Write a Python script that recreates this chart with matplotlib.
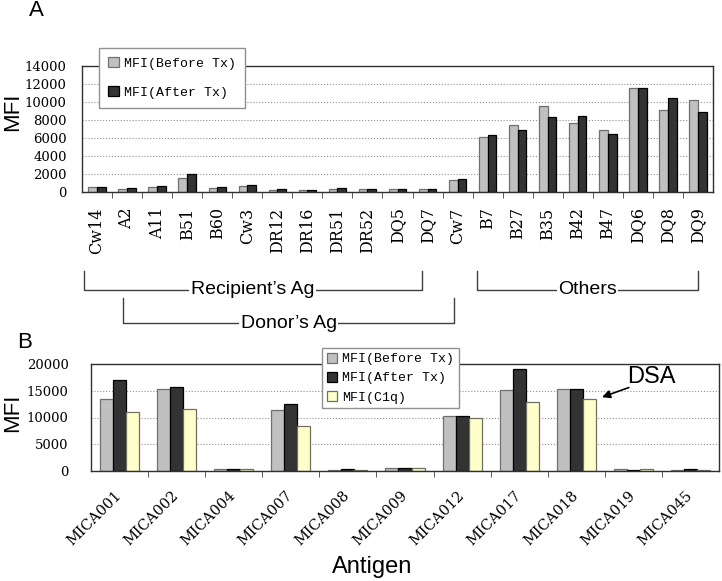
import matplotlib.pyplot as plt
import matplotlib.transforms as mtransforms
import numpy as np

# Panel A data
ag_a = ['Cw14', 'A2', 'A11', 'B51', 'B60', 'Cw3', 'DR12', 'DR16', 'DR51', 'DR52',
        'DQ5', 'DQ7', 'Cw7', 'B7', 'B27', 'B35', 'B42', 'B47', 'DQ6', 'DQ8', 'DQ9']
before_a = [550, 330, 550, 1550, 440, 660, 200, 200, 370, 350,
            290, 290, 1290, 6070, 7470, 9600, 7620, 6850, 11590, 9130, 10270]
after_a = [600, 420, 620, 1990, 550, 740, 300, 180, 480, 350,
           350, 350, 1430, 6370, 6850, 8350, 8460, 6440, 11590, 10450, 8940]

# Panel B data
ag_b = ['MICA001', 'MICA002', 'MICA004', 'MICA007', 'MICA008', 'MICA009',
        'MICA012', 'MICA017', 'MICA018', 'MICA019', 'MICA045']
before_b = [13430, 15390, 430, 11400, 250, 550, 10240, 15080, 15330, 300, 120]
after_b = [16920, 15630, 370, 12570, 430, 550, 10240, 19130, 15330, 250, 300]
c1q_b = [11100, 11520, 430, 8340, 250, 550, 9930, 12810, 13490, 300, 120]

GRAY = '#c0c0c0'
DARK = '#333333'
YELLOW = '#ffffcc'
SERIF = 'DejaVu Serif'
SANS = 'Liberation Sans'
MONO = 'Liberation Mono'

plt.rcParams['font.family'] = SERIF

W, H = 722, 581
fig = plt.figure(figsize=(W / 100, H / 100), dpi=100)


def px_axes(l, t, r, b):
    return fig.add_axes([l / W, 1 - b / H, (r - l) / W, (b - t) / H])


def style_axes(ax, n, ymax, ystep, ypad):
    ax.set_xlim(-0.5, n - 0.5)
    ax.set_ylim(0, ymax)
    ax.set_yticks(np.arange(0, ymax + 1, ystep))
    ax.set_xticks(np.arange(n - 1) + 0.5, minor=True)
    ax.tick_params(axis='y', length=0, pad=ypad, labelsize=9.5)
    ax.tick_params(axis='x', which='major', length=0)
    ax.tick_params(axis='x', which='minor', length=4, direction='out', color='#404040')
    ax.yaxis.grid(True, linestyle=':', color='#909090', linewidth=0.8)
    ax.set_axisbelow(True)
    for s in ax.spines.values():
        s.set_color('#303030')
        s.set_linewidth(1.0)


# ---------------- Panel A ----------------
axA = px_axes(82, 66, 713, 192)
x = np.arange(len(ag_a))
w = 0.29
axA.bar(x - w / 2, before_a, w, color=GRAY, edgecolor='#707070', linewidth=0.9,
        label='MFI(Before Tx)')
axA.bar(x + w / 2, after_a, w, color=DARK, edgecolor='#000000', linewidth=0.9,
        label='MFI(After Tx)')
style_axes(axA, len(ag_a), 14000, 2000, 11)
axA.set_xticks(x)
axA.set_xticklabels(ag_a, rotation=90, fontsize=11.5)
axA.tick_params(axis='x', which='major', pad=11)
axA.legend(loc='upper left', bbox_to_anchor=(99 / W, 1 - 48 / H),
           bbox_transform=fig.transFigure, prop={'family': MONO, 'size': 9.5},
           fancybox=False, edgecolor='#909090', framealpha=1,
           handlelength=0.8, handleheight=0.8, handletextpad=0.4,
           labelspacing=1.25, borderpad=0.7, borderaxespad=0)

# brackets under panel A (x in data units, y in figure pixels)
tr = mtransforms.blended_transform_factory(axA.transData, fig.transFigure)


def bracket(x0, x1, ytop, ybot, text):
    yt, yb = 1 - ytop / H, 1 - ybot / H
    xm = (x0 + x1) / 2
    axA.plot([x0, x0, x1, x1], [yt, yb, yb, yt], color='#404040', lw=1,
             transform=tr, clip_on=False)
    axA.text(xm, yb, text, transform=tr, ha='center', va='center',
             fontfamily=SANS, fontsize=14,
             bbox=dict(facecolor='white', edgecolor='none', pad=1))


bracket(-0.45, 10.8, 271, 290, "Recipient\u2019s Ag")
bracket(0.87, 11.88, 298, 323, "Donor\u2019s Ag")
bracket(12.65, 20.0, 271, 290, "Others")

# ---------------- Panel B ----------------
axB = px_axes(91, 364, 719, 471)
xb = np.arange(len(ag_b))
wb = 0.228
axB.bar(xb - wb, before_b, wb, color=GRAY, edgecolor='#707070', linewidth=0.9,
        label='MFI(Before Tx)')
axB.bar(xb, after_b, wb, color=DARK, edgecolor='#000000', linewidth=0.9,
        label='MFI(After Tx)')
axB.bar(xb + wb, c1q_b, wb, color=YELLOW, edgecolor='#707060', linewidth=0.9,
        label='MFI(C1q)')
style_axes(axB, len(ag_b), 20000, 5000, 16)
axB.set_xticks(xb)
axB.set_xticklabels(ag_b, rotation=45, ha='right', va='center', rotation_mode='anchor',
                    fontsize=10.5)
axB.tick_params(axis='x', which='major', pad=16)
axB.legend(loc='upper left', bbox_to_anchor=(322 / W, 1 - 348 / H),
           bbox_transform=fig.transFigure, prop={'family': MONO, 'size': 9.5},
           fancybox=False, edgecolor='#909090', framealpha=1,
           handlelength=0.8, handleheight=0.8, handletextpad=0.4,
           labelspacing=0.5, borderpad=0.35, borderaxespad=0)
axB.annotate('', xy=(8.45, 13800), xytext=(8.92, 15600),
             arrowprops=dict(arrowstyle='-|>', color='black', lw=1.2,
                             shrinkA=0, shrinkB=0, mutation_scale=12))
axB.text(9.32, 17600, 'DSA', fontfamily=SANS, fontsize=17, ha='center', va='center')

# labels
fig.text(36 / W, 1 - 10 / H, 'A', fontfamily=SANS, fontsize=16, ha='center', va='center')
fig.text(25 / W, 1 - 343 / H, 'B', fontfamily=SANS, fontsize=16, ha='center', va='center')
fig.text(13 / W, 1 - 112 / H, 'MFI', fontfamily=SANS, fontsize=16, rotation=90,
         ha='center', va='center')
fig.text(13 / W, 1 - 413 / H, 'MFI', fontfamily=SANS, fontsize=16, rotation=90,
         ha='center', va='center')
fig.text(372 / W, 1 - 567 / H, 'Antigen', fontfamily=SANS, fontsize=17,
         ha='center', va='center')

fig.savefig('out.png', dpi=100)
